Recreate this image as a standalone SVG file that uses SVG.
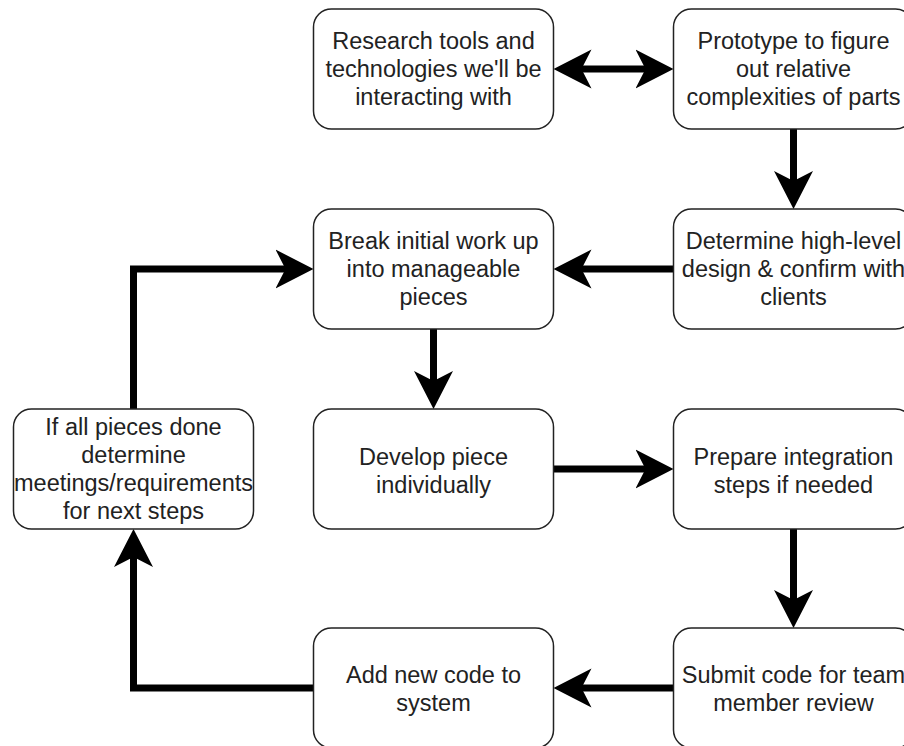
<svg xmlns="http://www.w3.org/2000/svg" width="904" height="746" viewBox="0 0 904 746">
<defs>
<style>
.box{fill:#fff;stroke:#222;stroke-width:1.5}
.t{font-family:"Liberation Sans",Arial,Helvetica,sans-serif;font-size:23.5px;fill:#222;text-anchor:middle}
.c{fill:none;stroke:#000;stroke-width:7;stroke-linejoin:miter}
</style>
<marker id="ah" markerUnits="userSpaceOnUse" markerWidth="40" markerHeight="40" viewBox="0 0 40 40" refX="18" refY="20" orient="auto-start-reverse">
<path d="M38,20 L0,0.5 L10,20 L0,39.5 Z" fill="#000"/>
</marker>
</defs>
<rect width="904" height="746" fill="#fff"/>
<g id="connectors">
<path class="c" d="M573.5,69 L653.5,69" marker-start="url(#ah)" marker-end="url(#ah)"/>
<path class="c" d="M793.5,129 L793.5,189" marker-end="url(#ah)"/>
<path class="c" d="M673.5,269 L573.5,269" marker-end="url(#ah)"/>
<path class="c" d="M433.5,329 L433.5,389" marker-end="url(#ah)"/>
<path class="c" d="M553.5,469 L653.5,469" marker-end="url(#ah)"/>
<path class="c" d="M793.5,529 L793.5,608" marker-end="url(#ah)"/>
<path class="c" d="M673.5,688 L573.5,688" marker-end="url(#ah)"/>
<path class="c" d="M313.5,688 L133.5,688 L133.5,549" marker-end="url(#ah)"/>
<path class="c" d="M133.5,409 L133.5,269 L293.5,269" marker-end="url(#ah)"/>
</g>
<g id="research">
<rect class="box" x="313.5" y="9" width="240" height="120" rx="18"/>
<text class="t" x="433.5" y="49">Research tools and</text>
<text class="t" x="433.5" y="77">technologies we'll be</text>
<text class="t" x="433.5" y="105">interacting with</text>
</g>
<g id="prototype">
<rect class="box" x="673.5" y="9" width="240" height="120" rx="18"/>
<text class="t" x="793.5" y="49">Prototype to figure</text>
<text class="t" x="793.5" y="77">out relative</text>
<text class="t" x="793.5" y="105">complexities of parts</text>
</g>
<g id="break">
<rect class="box" x="313.5" y="209" width="240" height="120" rx="18"/>
<text class="t" x="433.5" y="249">Break initial work up</text>
<text class="t" x="433.5" y="277">into manageable</text>
<text class="t" x="433.5" y="305">pieces</text>
</g>
<g id="determine">
<rect class="box" x="673.5" y="209" width="240" height="120" rx="18"/>
<text class="t" x="793.5" y="249">Determine high-level</text>
<text class="t" x="793.5" y="277">design &amp; confirm with</text>
<text class="t" x="793.5" y="305">clients</text>
</g>
<g id="develop">
<rect class="box" x="313.5" y="409" width="240" height="120" rx="18"/>
<text class="t" x="433.5" y="465">Develop piece</text>
<text class="t" x="433.5" y="493">individually</text>
</g>
<g id="prepare">
<rect class="box" x="673.5" y="409" width="240" height="120" rx="18"/>
<text class="t" x="793.5" y="465">Prepare integration</text>
<text class="t" x="793.5" y="493">steps if needed</text>
</g>
<g id="ifall">
<rect class="box" x="13.5" y="409" width="240" height="120" rx="18"/>
<text class="t" x="133.5" y="435">If all pieces done</text>
<text class="t" x="133.5" y="463">determine</text>
<text class="t" x="133.5" y="491">meetings/requirements</text>
<text class="t" x="133.5" y="519">for next steps</text>
</g>
<g id="addnew">
<rect class="box" x="313.5" y="628" width="240" height="120" rx="18"/>
<text class="t" x="433.5" y="683">Add new code to</text>
<text class="t" x="433.5" y="711">system</text>
</g>
<g id="submit">
<rect class="box" x="673.5" y="628" width="240" height="120" rx="18"/>
<text class="t" x="793.5" y="683">Submit code for team</text>
<text class="t" x="793.5" y="711">member review</text>
</g>
</svg>
